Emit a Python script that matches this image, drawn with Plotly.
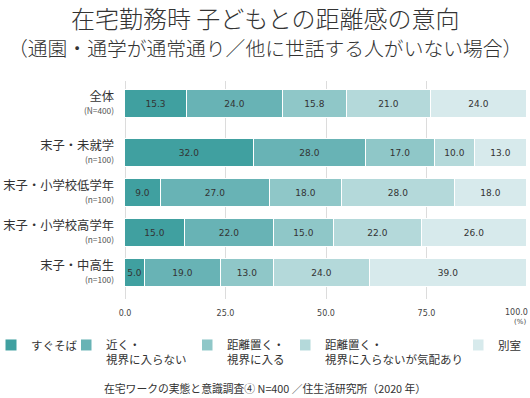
import plotly.graph_objects as go

# ---- data ----
categories = ["全体", "末子・未就学", "末子・小学校低学年", "末子・小学校高学年", "末子・中高生"]
sample_sizes = ["(N=400)", "(n=100)", "(n=100)", "(n=100)", "(n=100)"]
series_names = ["すぐそば", "近く・<br>視界に入らない", "距離置く・<br>視界に入る",
                "距離置く・<br>視界に入らないが気配あり", "別室"]
series_values = [
    [15.3, 32.0, 9.0, 15.0, 5.0],   # すぐそば
    [24.0, 28.0, 27.0, 22.0, 19.0], # 近く・視界に入らない
    [15.8, 17.0, 18.0, 15.0, 13.0], # 距離置く・視界に入る
    [21.0, 10.0, 28.0, 22.0, 24.0], # 距離置く・視界に入らないが気配あり
    [24.0, 13.0, 18.0, 26.0, 39.0], # 別室
]
x_ticks = [0, 25, 50, 75, 100]
x_ticklabels = ["0.0", "25.0", "50.0", "75.0", "100.0"]

# ---- style ----
colors = ["#40a0a0", "#68b3b5", "#8fc7c8", "#b4d9da", "#d7eaec"]
JP = "Noto Sans CJK JP"
NUM = "DejaVu Sans"
TXT = "#333333"

# category positions: extra gap after the first (overall) row
group_gap = 0.225
positions = [0.0] + [i + group_gap for i in range(1, len(categories))]

ticktext = [
    f"<span style='font-size:12.3px'>{c}</span><br><span style='font-size:8.3px;color:#555'>{n}</span>"
    for c, n in zip(categories, sample_sizes)
]

fig = go.Figure()
legend_ids = ["legend", "legend2", "legend3", "legend4", "legend5"]
for name, vals, col, lg in zip(series_names, series_values, colors, legend_ids):
    fig.add_trace(go.Bar(
        y=positions, x=vals, name=name, orientation="h",
        marker=dict(color=col, line=dict(color="white", width=1)),
        width=0.71,
        text=vals, texttemplate="%{x:.1f}", textposition="inside",
        insidetextanchor="middle", textangle=0,
        textfont=dict(family=NUM, size=9, color=TXT),
        hoverinfo="skip", legend=lg,
    ))

W, H = 530, 398
L, R, T, B = 125, 3, 81, 99
PW = W - L - R
PH = H - T - B

def px_x(px):
    return (px - L) / PW

def px_y(py):
    return (H - B - py) / PH

legend_px = [0, 81, 202, 300, 473]
legend_indent = [-9, -15, -15, -15, -15]
legend_top = 331
legends = {}
for lg, lx, ind in zip(legend_ids, legend_px, legend_indent):
    legends[lg] = dict(x=px_x(lx), y=px_y(legend_top), orientation="v",
                       xanchor="left", yanchor="top", valign="top",
                       bgcolor="rgba(0,0,0,0)", font=dict(family=JP, size=11.5, color=TXT),
                       itemwidth=30, tracegroupgap=0, indentation=ind)

tickfont_x = dict(family=NUM, size=8, color="#444")

fig.update_layout(
    width=W, height=H,
    margin=dict(l=L, r=R, t=T, b=B, autoexpand=False),
    paper_bgcolor="white", plot_bgcolor="white",
    barmode="stack", bargap=0,
    uniformtext=dict(minsize=9, mode="show"),
    font=dict(family=JP, color=TXT),
    showlegend=True,
    xaxis=dict(range=[0, 100], tickvals=x_ticks,
               ticktext=x_ticklabels[:-1] + [""],
               showgrid=True, gridcolor="#dcdcdc", gridwidth=1,
               zeroline=True, zerolinecolor="#dcdcdc", zerolinewidth=1,
               showline=False, ticks="", ticklabelstandoff=8,
               tickfont=tickfont_x, fixedrange=True),
    yaxis=dict(range=[4.875, -0.575], tickvals=positions, ticktext=ticktext,
               showgrid=False, zeroline=False, showline=False, ticks="",
               ticklabelstandoff=10,
               tickfont=dict(family=JP, size=10, color=TXT), fixedrange=True),
    annotations=[
        dict(text="在宅勤務時 子どもとの距離感の意向", x=px_x(W / 2), xref="paper",
             y=px_y(17.5), yref="paper", xanchor="center", yanchor="middle", showarrow=False,
             font=dict(family=JP, size=24, color=TXT, weight=300)),
        dict(text="（通園・通学が通常通り／他に世話する人がいない場合）", x=px_x(W / 2), xref="paper",
             y=px_y(48), yref="paper", xanchor="center", yanchor="middle", showarrow=False,
             font=dict(family=JP, size=19.8, color=TXT, weight=300)),
        # last x tick label, kept inside the page (right-aligned on its tick)
        dict(text=x_ticklabels[-1], x=x_ticks[-1], xref="x", xanchor="right", xshift=3,
             y=px_y(312.5), yref="paper", yanchor="middle", showarrow=False, font=tickfont_x),
        dict(text="(%)", x=1, xref="paper", xanchor="right", xshift=1, y=px_y(322), yref="paper",
             yanchor="middle", showarrow=False, font=dict(family=NUM, size=7, color="#444")),
        dict(text="在宅ワークの実態と意識調査④ N=400 ／住生活研究所（2020 年）", x=px_x(W / 2),
             xref="paper", y=px_y(388), yref="paper", xanchor="center", yanchor="middle",
             showarrow=False, font=dict(family=JP, size=10.8, color=TXT)),
    ],
    **legends,
)

fig.write_html("out.html", post_script="document.body.style.margin='0';",
               config={"displayModeBar": False})
